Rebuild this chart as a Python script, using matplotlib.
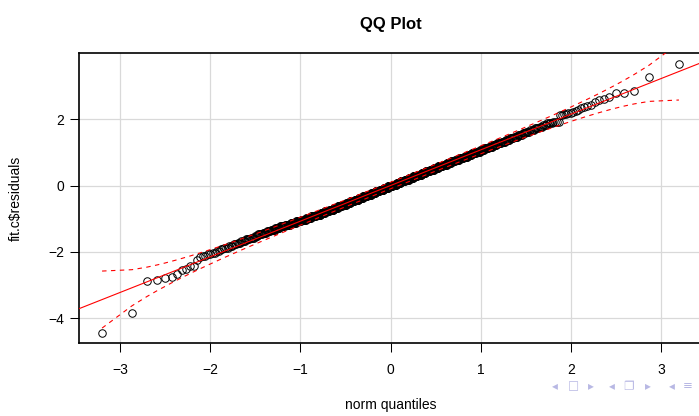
import statistics

import numpy as np
import matplotlib
matplotlib.use('Agg')
import matplotlib.pyplot as plt

plt.rcParams.update({
    'font.family': ['Liberation Sans', 'DejaVu Sans'],
    'font.size': 10,
    'axes.unicode_minus': True,
})

# sorted residuals of fit.c: the few extreme values on each side, and the
# bulk of the sample as (level, count) pairs
lower_tail = [-4.43, -3.83, -2.87, -2.86, -2.78, -2.75, -2.68, -2.55, -2.53,
              -2.43, -2.42, -2.23, -2.16]
mid_levels = [-2.125, -2.075, -2.025, -1.975, -1.925, -1.875, -1.825, -1.775,
              -1.725, -1.675, -1.625, -1.575, -1.525, -1.475, -1.425, -1.375,
              -1.325, -1.275, -1.225, -1.175, -1.125, -1.075, -1.025, -0.975,
              -0.925, -0.875, -0.825, -0.775, -0.725, -0.675, -0.625, -0.575,
              -0.525, -0.475, -0.425, -0.375, -0.325, -0.275, -0.225, -0.175,
              -0.125, -0.075, -0.025, 0.025, 0.075, 0.125, 0.175, 0.225,
              0.275, 0.325, 0.375, 0.425, 0.475, 0.525, 0.575, 0.625,
              0.675, 0.725, 0.775, 0.825, 0.875, 0.925, 0.975, 1.025,
              1.075, 1.125, 1.175, 1.225, 1.275, 1.325, 1.375, 1.425,
              1.475, 1.525, 1.575, 1.625, 1.675, 1.725, 1.775, 1.825,
              1.875, 1.925]
mid_counts = [2, 2, 2, 2, 2, 3, 3, 3,
              3, 4, 4, 4, 4, 5, 5, 5,
              6, 7, 8, 9, 10, 10, 10, 10,
              11, 11, 10, 11, 11, 11, 11, 12,
              12, 12, 12, 13, 13, 13, 13, 13,
              13, 14, 14, 13, 13, 13, 13, 13,
              13, 13, 12, 12, 12, 12, 12, 11,
              11, 10, 10, 10, 9, 9, 9, 8,
              8, 8, 7, 7, 7, 6, 6, 5,
              5, 5, 4, 4, 4, 4, 3, 3,
              4, 4]
upper_tail = [2.12, 2.14, 2.16, 2.17, 2.19, 2.20, 2.22, 2.24, 2.29, 2.33,
              2.36, 2.39, 2.43, 2.51, 2.57, 2.61, 2.67, 2.78, 2.80, 2.86,
              3.27, 3.67]

x_ticks = [-3, -2, -1, 0, 1, 2, 3]
y_ticks = [-4, -2, 0, 2]
envelope_level = 0.95
nav_symbols = ['\u25c2', '\u25a1', '\u25b8', '\u25c2', '\u2750', '\u25b8', '\u25c2', '\u2261']
nav_x = [555, 573, 591, 612, 629, 648, 672, 688]

# ---- QQ computations (normal reference, quartile line, pointwise envelope) ----
norm = statistics.NormalDist()
resid = np.concatenate([lower_tail, np.repeat(mid_levels, mid_counts), upper_tail])
resid = np.sort(resid)
n = len(resid)
P = (np.arange(1, n + 1) - 0.5) / n
z = np.array([norm.inv_cdf(p) for p in P])

q_x = np.quantile(resid, [0.25, 0.75])
q_z = np.array([norm.inv_cdf(0.25), norm.inv_cdf(0.75)])
b = (q_x[1] - q_x[0]) / (q_z[1] - q_z[0])
a = q_x[0] - b * q_z[0]

zz = norm.inv_cdf(1 - (1 - envelope_level) / 2)
dens = np.array([norm.pdf(v) for v in z])
se = (b / dens) * np.sqrt(P * (1 - P) / n)
fit = a + b * z

# ---- plot ----
W, H = 699, 416
fig = plt.figure(figsize=(W / 100, H / 100), dpi=100)
ax = fig.add_axes([79 / W, (H - 343.3) / H, (702 - 79) / W, (343.3 - 53) / H])

for t in x_ticks:
    ax.axvline(t, color='#d9d9d9', lw=0.9, zorder=0)
for t in y_ticks:
    ax.axhline(t, color='#d9d9d9', lw=0.9, zorder=0)

ax.plot(z, resid, 'o', ms=5.4, mfc='none', mec='black', mew=0.7, zorder=2)

xs = np.linspace(-4, 4, 2)
ax.plot(xs, a + b * xs, color='red', lw=0.8, zorder=3)
ax.plot(z, fit + zz * se, color='red', lw=0.8, ls=(0, (4, 4)), zorder=3)
ax.plot(z, fit - zz * se, color='red', lw=0.8, ls=(0, (4, 4)), zorder=3)

pad_x = 0.04 * (z.max() - z.min())
pad_y = 0.04 * (resid.max() - resid.min())
ax.set_xlim(z.min() - pad_x, z.max() + pad_x)
ax.set_ylim(resid.min() - pad_y, resid.max() + pad_y)

ax.set_xticks(x_ticks)
ax.set_yticks(y_ticks)
ax.tick_params(direction='out', length=6.5, width=0.75, labelsize=10, pad=8)
ax.tick_params(axis='y', pad=4)
for s in ax.spines.values():
    s.set_linewidth(1.2)

ax.set_title('QQ Plot', fontsize=12, fontweight='bold', pad=17)
ax.set_xlabel('norm quantiles', fontsize=10)
ax.set_ylabel('fit.c$residuals', fontsize=10)
ax.xaxis.set_label_coords(0.5, -0.19)
ax.yaxis.set_label_coords(-0.09, 0.5)

# beamer-style navigation symbols in the lower right corner
for sym, px in zip(nav_symbols, nav_x):
    fig.text(px / W, 1 - 386 / H, sym, color='#b8b8e4', fontsize=8.5,
             ha='center', va='center', family=['DejaVu Sans'])

fig.savefig('out.png', dpi=100, facecolor='white')
